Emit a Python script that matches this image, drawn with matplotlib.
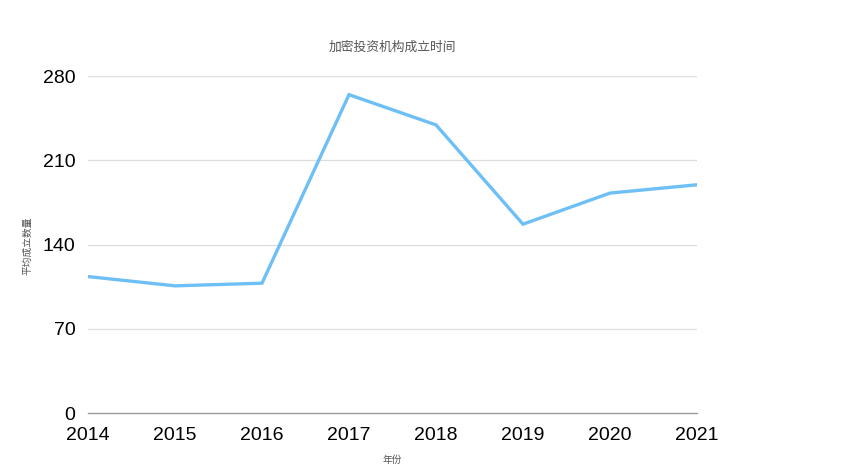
import matplotlib
matplotlib.use('Agg')
from matplotlib import pyplot as plt

years = ['2014', '2015', '2016', '2017', '2018', '2019', '2020', '2021']
counts = [113.5, 105.8, 108, 264.5, 239.4, 157, 182.8, 189.7]
yticks = [0, 70, 140, 210, 280]

plt.rcParams['font.family'] = ['Noto Sans CJK SC', 'DejaVu Sans']

fig = plt.figure(figsize=(8.43, 4.75), dpi=100)
ax = fig.add_axes([0.1044, 0.1299, 0.7224, 0.7101])

x = list(range(len(years)))
ax.plot(x, counts, color='#6fbff7', linewidth=2.4, solid_joinstyle='miter')

ax.set_xlim(0, len(years) - 1)
ax.set_ylim(0, 280)
ax.set_xticks(x)
ax.set_xticklabels(years, family=['Liberation Sans', 'DejaVu Sans'], fontsize=14)
ax.set_yticks(yticks)
ax.set_yticklabels([str(v) for v in yticks], family=['Liberation Sans', 'DejaVu Sans'], fontsize=14)
ax.tick_params(length=0)
ax.tick_params(axis='y', pad=9)
ax.tick_params(axis='x', pad=10)

for v in yticks[1:]:
    ax.axhline(v, color='#dddddd', linewidth=0.9, zorder=0)

for s in ['top', 'right', 'left']:
    ax.spines[s].set_visible(False)
ax.spines['bottom'].set_color('#999999')
ax.spines['bottom'].set_linewidth(1.0)

fig.text(0.465, 0.9, '加密投资机构成立时间', ha='center', va='center', fontsize=9.2, color='#555555')
fig.text(0.032, 0.482, '平均成立数量', ha='center', va='center', rotation=90, fontsize=7, color='#555555')
fig.text(0.465, 0.031, '年份', ha='center', va='center', fontsize=7, color='#555555')

fig.savefig('out.png', dpi=100)
